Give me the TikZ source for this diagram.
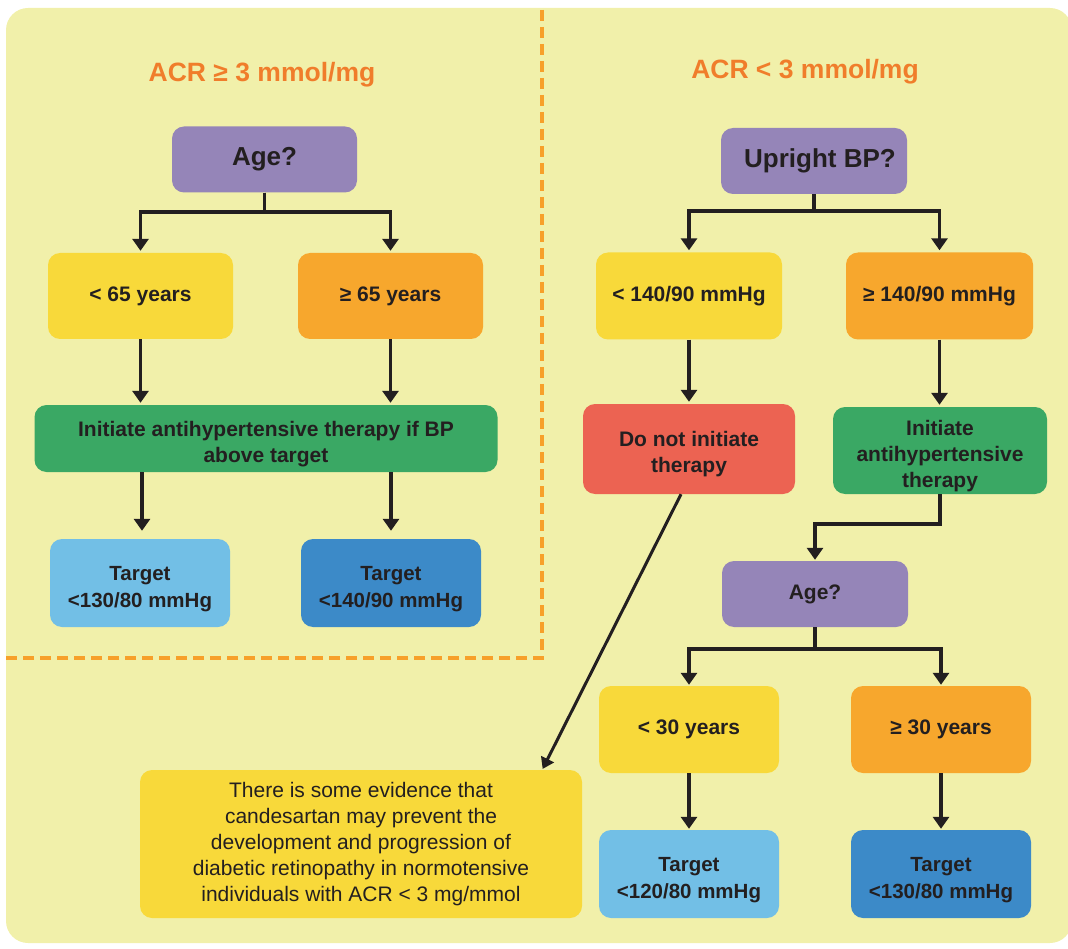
\documentclass[tikz,border=0pt]{standalone}
\usepackage{fontspec}
\setmainfont{Liberation Sans}
\usetikzlibrary{arrows.meta}
\definecolor{bgc}{HTML}{F1F0AA}
\definecolor{purp}{HTML}{9585B8}
\definecolor{yel}{HTML}{F8D93A}
\definecolor{org}{HTML}{F7A72D}
\definecolor{grn}{HTML}{3AA864}
\definecolor{redb}{HTML}{EC6352}
\definecolor{lblue}{HTML}{72BFE6}
\definecolor{dblue}{HTML}{3C8AC8}
\definecolor{ttl}{HTML}{F07D2B}
\definecolor{dsh}{HTML}{F7A02A}
\definecolor{txt}{HTML}{231F20}
\newcommand{\lowstrut}{\rule{0pt}{26pt}}
\tikzset{
  box/.style={rounded corners=12pt, inner sep=0pt, align=center, text=txt,
    font=\bfseries\fontsize{21}{26}\selectfont},
  qbox/.style={box, fill=purp, font=\bfseries\fontsize{26}{30}\selectfont},
  tbox/.style={box, font=\bfseries\fontsize{20.5}{26.5}\selectfont},
  arr/.style={line width=3.8pt, draw=txt, -{Triangle[width=16pt,length=12pt]}, shorten >=2pt},
  dashln/.style={line width=3.2pt, draw=dsh, dash pattern=on 11pt off 6pt},
  ttlstyle/.style={text=ttl, font=\bfseries\fontsize{26.5}{30}\selectfont}
}
\begin{document}
\begin{tikzpicture}[x=1pt,y=-1pt]
\useasboundingbox (0,0) rectangle (1068,949);
\fill[bgc, rounded corners=22pt] (6,8) rectangle (1072,943);
\draw[dashln] (542,10) -- (542,658) -- (6,658);

\node[ttlstyle] (titleL) at (262,75) {ACR ≥ 3 mmol/mg};
\node[ttlstyle] (titleR) at (805,72) {ACR < 3 mmol/mg};

% left branch
\node[qbox, minimum width=185pt, minimum height=66pt] (ageL) at (264.5,159.5) {Age?};
\node[box, fill=yel, minimum width=185pt, minimum height=86pt] (lt65) at (140.5,296) {< 65 years};
\node[box, fill=org, minimum width=185pt, minimum height=86pt] (ge65) at (390.5,296) {≥ 65 years};
\node[box, fill=grn, minimum width=463pt, minimum height=67pt] (greenL) at (266,438.5) {\lowstrut Initiate antihypertensive therapy if BP\\above target};
\node[tbox, fill=lblue, minimum width=180pt, minimum height=88pt] (tL1) at (140,583) {\lowstrut Target\\<130/80 mmHg};
\node[tbox, fill=dblue, minimum width=180pt, minimum height=88pt] (tL2) at (391,583) {\lowstrut Target\\<140/90 mmHg};

% right branch
\node[qbox, minimum width=186pt, minimum height=66pt] (upr) at (814,161) {\hspace*{12pt}Upright BP?};
\node[box, fill=yel, minimum width=186pt, minimum height=87pt] (lt140) at (689,296) {< 140/90 mmHg};
\node[box, fill=org, minimum width=187pt, minimum height=87pt] (ge140) at (939.5,296) {≥ 140/90 mmHg};
\node[box, fill=redb, minimum width=212pt, minimum height=90pt] (dni) at (689,449) {\lowstrut Do not initiate\\therapy};
\node[box, fill=grn, minimum width=214pt, minimum height=87pt] (initR) at (940,450.5) {\lowstrut Initiate\\antihypertensive\\therapy};
\node[box, fill=purp, minimum width=186pt, minimum height=66pt] (ageR) at (815,594) {Age?};
\node[box, fill=yel, minimum width=180pt, minimum height=87pt] (lt30) at (689,729.5) {< 30 years};
\node[box, fill=org, minimum width=180pt, minimum height=87pt] (ge30) at (941,729.5) {≥ 30 years};
\node[tbox, fill=lblue, minimum width=180pt, minimum height=88pt] (tR1) at (689,874) {\lowstrut Target\\<120/80 mmHg};
\node[tbox, fill=dblue, minimum width=180pt, minimum height=88pt] (tR2) at (941,874) {\lowstrut Target\\<130/80 mmHg};

\node[box, fill=yel, minimum width=442pt, minimum height=148pt, font=\fontsize{21}{25.8}\selectfont] (evid) at (361,844)
  {There is some evidence that\\candesartan may prevent the\\development and progression of\\diabetic retinopathy in normotensive\\individuals with ACR < 3 mg/mmol};

% connectors left
\draw[arr] (ageL.south) -- ++(0,19) -| (lt65.north);
\draw[arr] (ageL.south) -- ++(0,19) -| (ge65.north);
\draw[arr] (lt65.south) -- (lt65.south |- greenL.north);
\draw[arr] (ge65.south) -- (ge65.south |- greenL.north);
\draw[arr, shorten >=8pt] ([xshift=2pt]greenL.south -| tL1.north) -- ([xshift=2pt]tL1.north);
\draw[arr, shorten >=8pt] (greenL.south -| tL2.north) -- (tL2.north);

% connectors right
\draw[arr] (upr.south) -- ++(0,17) -| (lt140.north);
\draw[arr] (upr.south) -- ++(0,17) -| (ge140.north);
\draw[arr] (lt140.south) -- (dni.north);
\draw[arr] (ge140.south) -- (ge140.south |- initR.north);
\draw[arr, shorten >=1pt] (initR.south) -- ++(0,30) -| (ageR.north);
\draw[arr, shorten >=1pt] (ageR.south) -- ++(0,22) -| (lt30.north);
\draw[arr, shorten >=1pt] (ageR.south) -- ++(0,22) -| (ge30.north);
\draw[arr, shorten >=1pt] (lt30.south) -- (tR1.north);
\draw[arr, shorten >=1pt] (ge30.south) -- (tR2.north);
\draw[arr, line width=3pt, -{Triangle[width=14pt,length=11pt]}, shorten >=1pt] ([xshift=-8pt]dni.south) -- ([xshift=-40pt]evid.north east);
\end{tikzpicture}
\end{document}
